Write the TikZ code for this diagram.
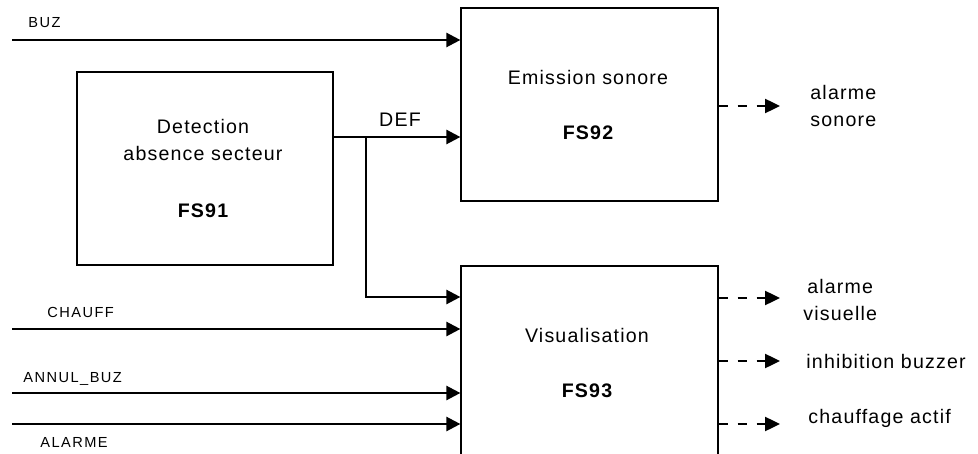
\documentclass[tikz,border=0pt]{standalone}
\usepackage{fontspec}
\setmainfont[LetterSpace=6]{Liberation Sans}
\newfontfamily\sigfont[LetterSpace=10]{Liberation Sans}
\usetikzlibrary{arrows.meta, positioning}

\begin{document}
\begin{tikzpicture}[
  x=0.5pt, y=-0.5pt,
  box/.style={rectangle, draw, line width=0.6pt, inner sep=0pt},
  boxtxt/.style={font=\fontsize{9.8}{13.5}\selectfont, anchor=base, inner sep=0pt, align=center},
  boxnum/.style={boxtxt, font=\fontsize{9.8}{13.5}\selectfont\bfseries},
  siglbl/.style={font=\sigfont\fontsize{7.3}{9}\selectfont, anchor=base west, inner sep=0pt},
  outlbl/.style={font=\fontsize{9.8}{13.5}\selectfont, anchor=base west, inner sep=0pt, align=center},
  arr/.style={-{Triangle[length=7pt, width=7pt]}, line width=1.2pt},
  dasharr/.style={-{Triangle[length=7.5pt, width=7pt]}, line width=1.2pt, dash pattern=on 4.5pt off 5pt},
]
\clip (0,0) rectangle (978,454);

%% Function blocks
\node[box, minimum width=128pt, minimum height=96.5pt] (fs91) at (205,168.5) {};
\node[box, minimum width=128.5pt, minimum height=96.5pt] (fs92) at (589.5,104.5) {};
\node[box, minimum width=128.5pt, minimum height=107pt] (fs93) at (589.5,373) {};

%% Block texts
\node[boxtxt] (t91) at (203,161) {Detection\\absence secteur};
\node[boxnum] (n91) at (203,217) {FS91};
\node[boxtxt] (t92) at (588,85) {Emission sonore};
\node[boxnum] (n92) at (588,140) {FS92};
\node[boxtxt] (t93) at (587,342) {Visualisation};
\node[boxnum] (n93) at (587,397) {FS93};

%% Input rows
\coordinate (buz) at (12,40);
\coordinate (chauff) at (12,329);
\coordinate (annul) at (12,393);
\coordinate (alarme) at (12,424);
\coordinate (defrow) at (0,137);
\coordinate (tap) at (366,137);
\coordinate (visrow) at (0,297);

%% Input labels
\node[siglbl] (lbuz) at (28,28) {BUZ};
\node[siglbl] (lchauff) at (47,317) {CHAUFF};
\node[siglbl] (lannul) at (23,382) {ANNUL\_BUZ};
\node[siglbl] (lalarme) at (40,447) {ALARME};
\node[boxtxt] (ldef) at (400,127) {DEF};

%% Inputs
\draw[arr] (buz) -- (buz -| fs92.west);
\draw[arr] (fs91.east |- defrow) -- (fs92.west |- defrow);
\draw[arr] (tap) |- (fs93.west |- visrow);
\draw[arr] (chauff) -- (chauff -| fs93.west);
\draw[arr] (annul) -- (annul -| fs93.west);
\draw[arr] (alarme) -- (alarme -| fs93.west);

%% Outputs
\coordinate (osono) at (780,106);
\coordinate (ovis) at (780,298);
\coordinate (oinhib) at (780,361);
\coordinate (ochauf) at (780,424);
\draw[dasharr] (fs92.east |- osono) -- (osono);
\draw[dasharr] (fs93.east |- ovis) -- (ovis);
\draw[dasharr] (fs93.east |- oinhib) -- (oinhib);
\draw[dasharr] (fs93.east |- ochauf) -- (ochauf);

%% Output labels
\node[outlbl] (lsono) at (810,127) {alarme\\sonore};
\node[outlbl] (lvis) at (803,320) {alarme\\visuelle};
\node[outlbl] (linhib) at (806,368) {inhibition buzzer};
\node[outlbl] (lchauf) at (808,423) {chauffage actif};

\end{tikzpicture}
\end{document}
